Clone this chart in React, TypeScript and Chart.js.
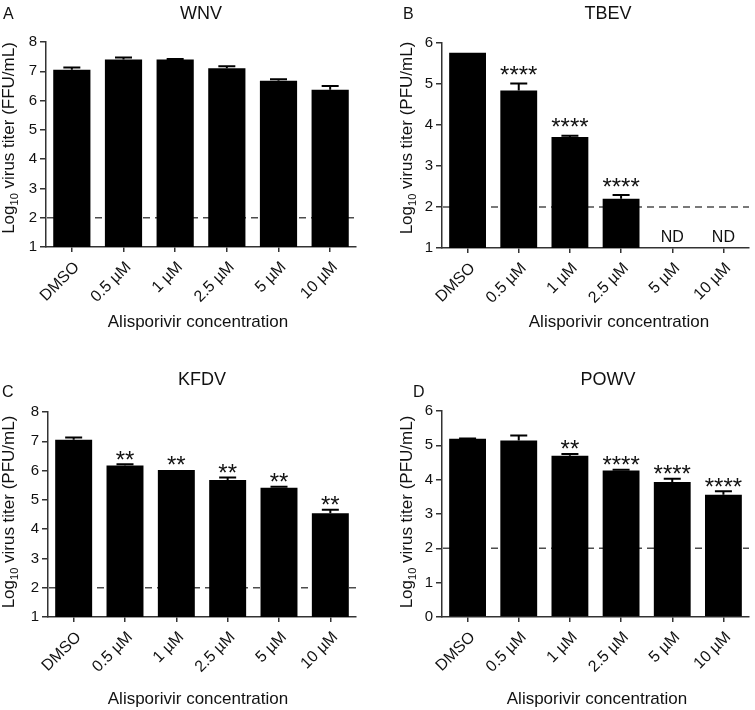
import React, { useEffect, useRef } from "react";
import { Chart, registerables } from "chart.js";

Chart.register(...registerables);

const FONT = "'Liberation Sans', Arial, Helvetica, sans-serif";
const TEXT = "#111111";
const AXIS = "#333333";

const categories = ["DMSO", "0.5 µM", "1 µM", "2.5 µM", "5 µM", "10 µM"];

const wnvMean = [7.05, 7.4, 7.4, 7.1, 6.68, 6.37];
const wnvErr = [0.08, 0.07, 0.02, 0.07, 0.05, 0.13];
const wnvSig = ["", "", "", "", "", ""];

const tbevMean = [5.76, 4.84, 3.71, 2.2, null, null];
const tbevErr = [0, 0.17, 0.03, 0.09, null, null];
const tbevSig = ["", "****", "****", "****", "ND", "ND"];

const kfdvMean = [7.05, 6.17, 6.02, 5.68, 5.41, 4.54];
const kfdvErr = [0.08, 0.05, 0.0, 0.08, 0.04, 0.12];
const kfdvSig = ["", "**", "**", "**", "**", "**"];

const powvMean = [5.19, 5.14, 4.7, 4.27, 3.93, 3.56];
const powvErr = [0.01, 0.15, 0.05, 0.02, 0.1, 0.1];
const powvSig = ["", "", "**", "****", "****", "****"];

const limitOfDetection = 2;

type Spec = {
  left: number;
  top: number;
  w: number;
  h: number;
  pad: { left: number; right: number; top: number; bottom: number };
  yAxisW: number;
  xAxisH: number;
  yMin: number;
  yMax: number;
  means: (number | null)[];
  errs: (number | null)[];
  sig: string[];
  sigGap: number;
  letter: string;
  letterPos: [number, number];
  title: string;
  titlePos: [number, number];
  yUnit: string;
  yTitlePos: [number, number];
  xTitlePos: [number, number];
};

const specs: Spec[] = [
  {
    left: 0, top: 0, w: 378, h: 355,
    pad: { left: 0, right: 22, top: 42, bottom: 0 },
    yAxisW: 46, xAxisH: 108,
    yMin: 1, yMax: 8,
    means: wnvMean, errs: wnvErr, sig: wnvSig, sigGap: 10,
    letter: "A", letterPos: [3, 18.5],
    title: "WNV", titlePos: [201, 18.5],
    yUnit: "FFU/mL", yTitlePos: [14, 138],
    xTitlePos: [198, 327],
  },
  {
    left: 378, top: 0, w: 377, h: 355,
    pad: { left: 0, right: 6, top: 43, bottom: 0 },
    yAxisW: 64, xAxisH: 107,
    yMin: 1, yMax: 6,
    means: tbevMean, errs: tbevErr, sig: tbevSig, sigGap: 14,
    letter: "B", letterPos: [25, 18.5],
    title: "TBEV", titlePos: [230, 18.5],
    yUnit: "PFU/mL", yTitlePos: [34, 138],
    xTitlePos: [241, 327],
  },
  {
    left: 0, top: 355, w: 378, h: 355,
    pad: { left: 0, right: 22, top: 57, bottom: 0 },
    yAxisW: 48, xAxisH: 93,
    yMin: 1, yMax: 8,
    means: kfdvMean, errs: kfdvErr, sig: kfdvSig, sigGap: 10,
    letter: "C", letterPos: [2, 41.7],
    title: "KFDV", titlePos: [202, 30],
    yUnit: "PFU/mL", yTitlePos: [14, 157],
    xTitlePos: [198, 349],
  },
  {
    left: 378, top: 355, w: 377, h: 355,
    pad: { left: 0, right: 6, top: 56, bottom: 0 },
    yAxisW: 64, xAxisH: 93,
    yMin: 0, yMax: 6,
    means: powvMean, errs: powvErr, sig: powvSig, sigGap: 10,
    letter: "D", letterPos: [35, 41.7],
    title: "POWV", titlePos: [230, 30],
    yUnit: "PFU/mL", yTitlePos: [34, 157],
    xTitlePos: [219, 349],
  },
];

function makePlugin(spec: Spec) {
  return {
    id: "panelDecor",
    beforeDatasetsDraw(chart: any) {
      const { ctx, chartArea, scales } = chart;
      const y = scales.y.getPixelForValue(limitOfDetection);
      ctx.save();
      ctx.strokeStyle = "#4d4d4d";
      ctx.lineWidth = 1.5;
      ctx.setLineDash([7, 5]);
      ctx.beginPath();
      ctx.moveTo(chartArea.left + 1, y);
      ctx.lineTo(chartArea.right, y);
      ctx.stroke();
      ctx.restore();
    },
    afterDatasetsDraw(chart: any) {
      const { ctx, chartArea, scales } = chart;
      const meta = chart.getDatasetMeta(0);
      ctx.save();
      spec.means.forEach((m, i) => {
        const cx = scales.x.getPixelForValue(i);
        if (m === null) {
          const label = spec.sig[i];
          if (label) {
            ctx.fillStyle = TEXT;
            ctx.font = `16px ${FONT}`;
            ctx.textAlign = "center";
            ctx.textBaseline = "alphabetic";
            ctx.fillText(label, cx, chartArea.bottom - 6);
          }
          return;
        }
        const e = spec.errs[i] ?? 0;
        const bx = meta.data[i] ? meta.data[i].x : cx;
        const yTop = scales.y.getPixelForValue(m);
        const yErr = scales.y.getPixelForValue(m + e);
        if (e > 0) {
          ctx.strokeStyle = "#000000";
          ctx.lineWidth = 2;
          ctx.setLineDash([]);
          ctx.beginPath();
          ctx.moveTo(bx, yTop);
          ctx.lineTo(bx, yErr);
          ctx.moveTo(bx - 8.5, yErr);
          ctx.lineTo(bx + 8.5, yErr);
          ctx.stroke();
        }
        const label = spec.sig[i];
        if (label) {
          ctx.fillStyle = TEXT;
          ctx.font = `24px ${FONT}`;
          ctx.textAlign = "center";
          ctx.textBaseline = "alphabetic";
          const center = yErr - spec.sigGap;
          ctx.fillText(label, bx, center + 13.4);
        }
      });
      ctx.restore();
    },
    afterDraw(chart: any) {
      const { ctx } = chart;
      ctx.save();
      ctx.fillStyle = TEXT;
      ctx.textBaseline = "alphabetic";
      ctx.font = `16px ${FONT}`;
      ctx.textAlign = "left";
      ctx.fillText(spec.letter, spec.letterPos[0], spec.letterPos[1]);
      ctx.font = `18px ${FONT}`;
      ctx.textAlign = "center";
      ctx.fillText(spec.title, spec.titlePos[0], spec.titlePos[1]);
      ctx.font = `17px ${FONT}`;
      ctx.fillText("Alisporivir concentration", spec.xTitlePos[0], spec.xTitlePos[1]);
      const p1 = "Log";
      const p2 = "10";
      const p3 = ` virus titer (${spec.yUnit})`;
      ctx.font = `17px ${FONT}`;
      const w1 = ctx.measureText(p1).width;
      const w3 = ctx.measureText(p3).width;
      ctx.font = `11px ${FONT}`;
      const w2 = ctx.measureText(p2).width;
      const total = w1 + w2 + w3;
      ctx.translate(spec.yTitlePos[0], spec.yTitlePos[1]);
      ctx.rotate(-Math.PI / 2);
      ctx.textAlign = "left";
      let sx = -total / 2;
      ctx.font = `17px ${FONT}`;
      ctx.fillText(p1, sx, 0);
      sx += w1;
      ctx.font = `11px ${FONT}`;
      ctx.fillText(p2, sx, 4);
      sx += w2;
      ctx.font = `17px ${FONT}`;
      ctx.fillText(p3, sx, 0);
      ctx.restore();
    },
  };
}

function buildConfig(spec: Spec): any {
  return {
    type: "bar",
    data: {
      labels: categories,
      datasets: [
        {
          data: spec.means,
          backgroundColor: "#000000",
          borderWidth: 0,
          barPercentage: 0.72,
          categoryPercentage: 1,
        },
      ],
    },
    options: {
      responsive: false,
      maintainAspectRatio: false,
      animation: false,
      layout: { padding: spec.pad },
      plugins: {
        legend: { display: false },
        tooltip: { enabled: false },
        title: { display: false },
      },
      scales: {
        x: {
          offset: true,
          grid: {
            offset: false,
            drawOnChartArea: false,
            drawTicks: true,
            tickLength: 5,
            color: AXIS,
            lineWidth: 1.5,
          },
          border: { display: true, color: AXIS, width: 1.5 },
          ticks: {
            color: TEXT,
            font: { family: FONT, size: 16 },
            minRotation: 45,
            maxRotation: 45,
            padding: 6,
            labelOffset: 5,
            autoSkip: false,
          },
          afterFit: (scale: any) => {
            scale.height = spec.xAxisH;
          },
        },
        y: {
          min: spec.yMin,
          max: spec.yMax,
          grid: {
            drawOnChartArea: false,
            drawTicks: true,
            tickLength: 6,
            color: AXIS,
            lineWidth: 1.5,
          },
          border: { display: true, color: AXIS, width: 1.5 },
          ticks: {
            stepSize: 1,
            color: TEXT,
            font: { family: FONT, size: 15 },
            padding: 3,
          },
          afterFit: (scale: any) => {
            scale.width = spec.yAxisW;
          },
        },
      },
    },
    plugins: [makePlugin(spec)],
  };
}

function Panel({ spec }: { spec: Spec }) {
  const ref = useRef<HTMLCanvasElement>(null);
  useEffect(() => {
    if (!ref.current) return;
    const chart = new Chart(ref.current, buildConfig(spec));
    return () => chart.destroy();
  }, [spec]);
  return (
    <canvas
      ref={ref}
      width={spec.w}
      height={spec.h}
      style={{
        position: "absolute",
        left: spec.left,
        top: spec.top,
        width: spec.w,
        height: spec.h,
      }}
    />
  );
}

export default function App() {
  return (
    <div
      style={{
        position: "absolute",
        left: 0,
        top: 0,
        width: 755,
        height: 710,
        background: "#ffffff",
        overflow: "hidden",
      }}
    >
      {specs.map((s, i) => (
        <Panel key={i} spec={s} />
      ))}
    </div>
  );
}
